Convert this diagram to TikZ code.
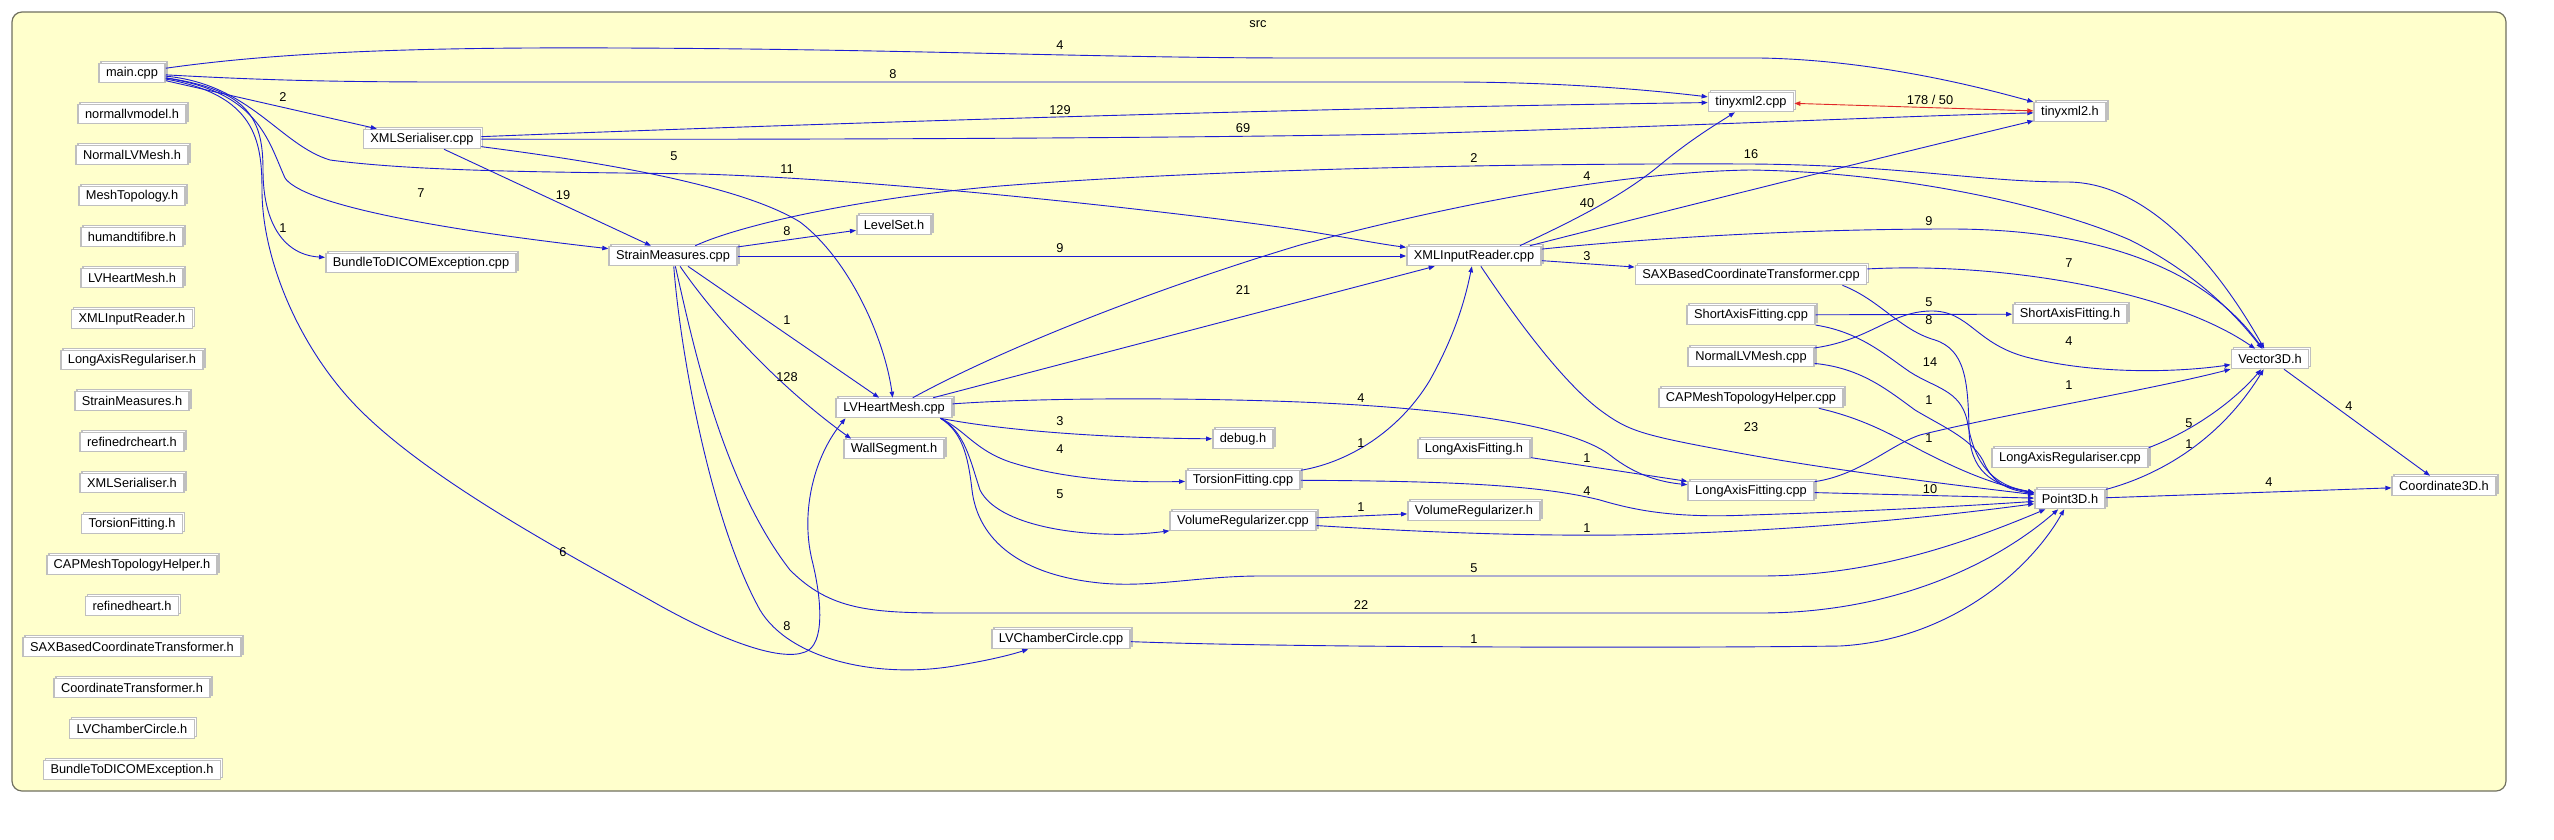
\documentclass[tikz,border=0pt]{standalone}
\usepackage{fontspec}
\setmainfont{Liberation Sans}
\usetikzlibrary{arrows.meta,shadows}
\definecolor{clusterbg}{HTML}{FFFFCC}
\definecolor{clusterbd}{HTML}{707060}
\definecolor{filebd}{HTML}{BFBFBF}
\definecolor{edgeblue}{HTML}{1C1CD2}
\definecolor{cycred}{HTML}{E02828}
\newcommand{\gvfont}{\fontsize{12.8}{14}\selectfont}
\tikzset{
  file/.style={draw=filebd,fill=white,line width=1.6pt,inner xsep=7pt,inner ysep=0pt,
               minimum height=19pt,font=\gvfont,
               copy shadow={shadow xshift=2pt,shadow yshift=2pt}},
  dep/.style={-{Triangle[length=6pt,width=4.5pt]},draw=edgeblue,line width=0.9pt},
  cyc/.style={{Triangle[length=6pt,width=4.5pt]}-{Triangle[length=6pt,width=4.5pt]},
              draw=cycred,line width=0.9pt},
  lbl/.style={font=\gvfont,text=black,inner sep=1pt},
}
\begin{document}
\begin{tikzpicture}[x=1pt,y=-1pt]
  \useasboundingbox (0,0) rectangle (2554,839);
  % Cluster frame
  \draw[draw=clusterbd,fill=clusterbg,rounded corners=10pt,line width=1.2pt]
    (12,12) rectangle (2506,791);
  \node[font=\gvfont] (srclbl) at (1258,24) {src};
  % Left column
  \node[file] (main) at (132,73) {main.cpp};
  \foreach \txt [count=\i] in {normallvmodel.h,NormalLVMesh.h,MeshTopology.h,humandtifibre.h,
    LVHeartMesh.h,XMLInputReader.h,LongAxisRegulariser.h,StrainMeasures.h,refinedrcheart.h,
    XMLSerialiser.h,TorsionFitting.h,CAPMeshTopologyHelper.h,refinedheart.h,
    SAXBasedCoordinateTransformer.h,CoordinateTransformer.h,LVChamberCircle.h,
    BundleToDICOMException.h}{
    \node[file] (lh\i) at (132,{73+41*\i}) {\txt};}
  % Files
  \node[file] (xmlsercpp) at (422,139) {XMLSerialiser.cpp};
  \node[file] (bundlecpp) at (421,263) {BundleToDICOMException.cpp};
  \node[file] (straincpp) at (673,256) {StrainMeasures.cpp};
  \node[file] (levelset) at (894,225) {LevelSet.h};
  \node[file] (lvheartcpp) at (894,408) {LVHeartMesh.cpp};
  \node[file] (wallseg) at (894,449) {WallSegment.h};
  \node[file] (lvchambercpp) at (1061,639) {LVChamberCircle.cpp};
  \node[file] (debugh) at (1243,439) {debug.h};
  \node[file] (torsioncpp) at (1243,480) {TorsionFitting.cpp};
  \node[file] (volregcpp) at (1243,521) {VolumeRegularizer.cpp};
  \node[file] (xmlreadcpp) at (1474,256) {XMLInputReader.cpp};
  \node[file] (longfith) at (1474,449) {LongAxisFitting.h};
  \node[file] (volregh) at (1474,511) {VolumeRegularizer.h};
  \node[file] (tinycpp) at (1751,102) {tinyxml2.cpp};
  \node[file] (saxcpp) at (1751,275) {SAXBasedCoordinateTransformer.cpp};
  \node[file] (shortfitcpp) at (1751,315) {ShortAxisFitting.cpp};
  \node[file] (normlvcpp) at (1751,357) {NormalLVMesh.cpp};
  \node[file] (capmeshcpp) at (1751,398) {CAPMeshTopologyHelper.cpp};
  \node[file] (longfitcpp) at (1751,491) {LongAxisFitting.cpp};
  \node[file] (tinyh) at (2070,112) {tinyxml2.h};
  \node[file] (shortfith) at (2070,314) {ShortAxisFitting.h};
  \node[file] (longregcpp) at (2070,458) {LongAxisRegulariser.cpp};
  \node[file] (pointh) at (2070,499) {Point3D.h};
  \node[file] (vectorh) at (2270,359) {Vector3D.h};
  \node[file] (coordh) at (2444,486) {Coordinate3D.h};
  % main.cpp
  \draw[dep] (main) .. controls (280,52) and (420,47) .. (620,48)
    .. controls (900,49) and (1100,58) .. (1300,58) -- (1760,58)
    .. controls (1880,60) and (1990,90) .. (tinyh) node[lbl] at (1060,45) {4};
  \draw[dep] (main) .. controls (260,80) and (330,82) .. (450,82) -- (1450,82)
    .. controls (1560,82) and (1650,90) .. (tinycpp) node[lbl] at (893,74) {8};
  \draw[dep] (main) -- (xmlsercpp) node[lbl] at (283,97) {2};
  \draw[dep] (main) .. controls (250,84) and (280,145) .. (330,160)
    .. controls (420,172) and (560,172) .. (700,174)
    .. controls (900,180) and (1200,215) .. (1300,230)
    .. controls (1350,238) and (1380,244) .. (xmlreadcpp) node[lbl] at (787,169) {11};
  \draw[dep] (main) .. controls (258,92) and (268,140) .. (285,178)
    .. controls (300,200) and (400,225) .. (straincpp) node[lbl] at (421,193) {7};
  \draw[dep] (main) .. controls (250,90) and (263,120) .. (263,170)
    .. controls (263,225) and (285,255) .. (bundlecpp) node[lbl] at (283,228) {1};
  \draw[dep] (main) .. controls (255,95) and (262,140) .. (262,190)
    .. controls (262,260) and (300,350) .. (360,410)
    .. controls (430,480) and (560,550) .. (650,600)
    .. controls (720,640) and (780,662) .. (805,652)
    .. controls (825,645) and (822,600) .. (812,560)
    .. controls (800,510) and (815,455) .. (lvheartcpp.-168) node[lbl] at (563,552) {6};
  % XMLSerialiser.cpp
  \draw[dep] (xmlsercpp) .. controls (800,124) and (1300,108) .. (tinycpp)
    node[lbl] at (1060,110) {129};
  \draw[dep] (xmlsercpp) .. controls (900,140) and (1250,137) .. (1400,134)
    .. controls (1700,126) and (1900,116) .. (tinyh) node[lbl] at (1243,128) {69};
  \draw[dep] (xmlsercpp) .. controls (600,162) and (740,185) .. (800,222)
    .. controls (850,260) and (885,340) .. (lvheartcpp) node[lbl] at (674,156) {5};
  \draw[dep] (xmlsercpp) -- (straincpp) node[lbl] at (563,195) {19};
  % StrainMeasures.cpp
  \draw[dep] (straincpp) -- (levelset) node[lbl] at (787,231) {8};
  \draw[dep] (straincpp) -- (xmlreadcpp) node[lbl] at (1060,248) {9};
  \draw[dep] (straincpp) .. controls (740,225) and (860,198) .. (1000,186)
    .. controls (1200,170) and (1500,163) .. (1750,164)
    .. controls (1900,165) and (1980,182) .. (2067,182)
    .. controls (2150,182) and (2220,270) .. (vectorh) node[lbl] at (1474,158) {2};
  \draw[dep] (straincpp) -- (lvheartcpp) node[lbl] at (787,320) {1};
  \draw[dep] (straincpp) .. controls (710,310) and (770,380) .. ([xshift=8pt]wallseg.north west)
    node[lbl] at (787,377) {128};
  \draw[dep] (straincpp) .. controls (680,350) and (710,520) .. (760,610)
    .. controls (790,660) and (880,680) .. (960,665)
    .. controls (990,660) and (1010,655) .. (lvchambercpp) node[lbl] at (787,626) {8};
  \draw[dep] (straincpp) .. controls (690,330) and (720,480) .. (790,570)
    .. controls (830,610) and (870,613) .. (950,613) -- (1760,613)
    .. controls (1900,613) and (2000,560) .. (pointh) node[lbl] at (1361,605) {22};
  % LVHeartMesh.cpp
  \draw[dep] (lvheartcpp) .. controls (1000,350) and (1150,290) .. (1300,245)
    .. controls (1450,205) and (1620,172) .. (1750,170)
    .. controls (1900,172) and (2050,205) .. (2130,240)
    .. controls (2200,275) and (2240,320) .. (vectorh) node[lbl] at (1587,176) {4};
  \draw[dep] (lvheartcpp) -- (xmlreadcpp) node[lbl] at (1243,290) {21};
  \draw[dep] ([xshift=-12pt]lvheartcpp.south east) .. controls (1000,430) and (1100,438) .. (debugh)
    node[lbl] at (1060,421) {3};
  \draw[dep] ([xshift=-12pt]lvheartcpp.south east) .. controls (965,430) and (975,450) .. (1010,462)
    .. controls (1060,478) and (1120,483) .. (torsioncpp) node[lbl] at (1060,449) {4};
  \draw[dep] ([xshift=-12pt]lvheartcpp.south east) .. controls (965,432) and (970,460) .. (980,490)
    .. controls (1000,530) and (1100,540) .. (volregcpp) node[lbl] at (1060,494) {5};
  \draw[dep] (lvheartcpp) .. controls (1050,397) and (1200,398) .. (1300,402)
    .. controls (1450,408) and (1570,425) .. (1610,455)
    .. controls (1635,475) and (1660,482) .. (longfitcpp) node[lbl] at (1361,398) {4};
  \draw[dep] ([xshift=-12pt]lvheartcpp.south east) .. controls (962,432) and (968,455) .. (972,490)
    .. controls (978,540) and (1020,575) .. (1100,583)
    .. controls (1150,588) and (1200,576) .. (1260,576) -- (1760,576)
    .. controls (1870,576) and (1960,545) .. (pointh) node[lbl] at (1474,568) {5};
  % XMLInputReader.cpp
  \draw[dep] ([xshift=-22pt]xmlreadcpp.north east) .. controls (1570,222) and (1620,198) .. (1660,165)
    .. controls (1690,140) and (1715,125) .. (tinycpp) node[lbl] at (1587,203) {40};
  \draw[dep] ([xshift=-12pt]xmlreadcpp.north east) .. controls (1650,215) and (1850,165) .. (tinyh)
    node[lbl] at (1751,154) {16};
  \draw[dep] (xmlreadcpp) .. controls (1650,238) and (1800,229) .. (1950,229)
    .. controls (2110,229) and (2210,275) .. (vectorh) node[lbl] at (1929,221) {9};
  \draw[dep] (xmlreadcpp) -- (saxcpp) node[lbl] at (1587,256) {3};
  \draw[dep] (xmlreadcpp) .. controls (1510,310) and (1560,380) .. (1600,410)
    .. controls (1630,432) and (1640,435) .. (1750,455)
    .. controls (1850,473) and (1980,488) .. (pointh) node[lbl] at (1751,427) {23};
  % TorsionFitting.cpp and VolumeRegularizer.cpp
  \draw[dep] (torsioncpp) .. controls (1350,462) and (1400,430) .. (1430,380)
    .. controls (1455,335) and (1465,300) .. (xmlreadcpp) node[lbl] at (1361,443) {1};
  \draw[dep] (torsioncpp) .. controls (1450,481) and (1540,485) .. (1600,500)
    .. controls (1640,512) and (1680,518) .. (1750,515)
    .. controls (1880,511) and (1980,505) .. (pointh) node[lbl] at (1587,491) {4};
  \draw[dep] (volregcpp) -- (volregh) node[lbl] at (1361,507) {1};
  \draw[dep] (volregcpp) .. controls (1420,532) and (1520,536) .. (1620,535)
    .. controls (1800,532) and (1950,515) .. (pointh) node[lbl] at (1587,528) {1};
  \draw[dep] (longfith) -- (longfitcpp) node[lbl] at (1587,458) {1};
  \draw[dep] (lvchambercpp) .. controls (1300,648) and (1700,648) .. (1840,646)
    .. controls (1950,640) and (2030,570) .. (pointh) node[lbl] at (1474,639) {1};
  % Fourth column
  \draw[dep] (saxcpp) .. controls (2000,262) and (2170,290) .. (vectorh) node[lbl] at (2069,263) {7};
  \draw[dep] ([xshift=-25pt]saxcpp.south east) .. controls (1880,300) and (1900,330) .. (1935,340)
    .. controls (1965,350) and (1968,380) .. (1969,430)
    .. controls (1970,470) and (1990,485) .. (pointh) node[lbl] at (1929,320) {8};
  \draw[dep] (shortfitcpp) -- (shortfith) node[lbl] at (1929,302) {5};
  \draw[dep] (shortfitcpp) .. controls (1860,332) and (1885,355) .. (1910,372)
    .. controls (1935,388) and (1960,390) .. (1967,420)
    .. controls (1973,455) and (1985,484) .. (pointh) node[lbl] at (1930,362) {14};
  \draw[dep] (normlvcpp) .. controls (1870,340) and (1890,312) .. (1930,311)
    .. controls (1970,310) and (1975,345) .. (2030,358)
    .. controls (2100,375) and (2180,372) .. (vectorh) node[lbl] at (2069,341) {4};
  \draw[dep] (normlvcpp) .. controls (1860,368) and (1885,388) .. (1915,410)
    .. controls (1945,428) and (1975,440) .. (1985,465)
    .. controls (1995,485) and (2010,490) .. (pointh) node[lbl] at (1929,400) {1};
  \draw[dep] ([xshift=-25pt]capmeshcpp.south east) .. controls (1870,420) and (1900,440) .. (1930,455)
    .. controls (1970,475) and (2000,486) .. (pointh) node[lbl] at (1929,438) {1};
  \draw[dep] (longfitcpp) -- (pointh) node[lbl] at (1930,489) {10};
  \draw[dep] (longfitcpp) .. controls (1860,475) and (1890,445) .. (1920,435)
    .. controls (2000,415) and (2150,390) .. (vectorh) node[lbl] at (2069,385) {1};
  % Right end
  \draw[dep] (longregcpp.north east) .. controls (2195,430) and (2235,400) .. (vectorh)
    node[lbl] at (2189,423) {5};
  \draw[dep] (pointh) .. controls (2160,475) and (2220,440) .. (vectorh) node[lbl] at (2189,444) {1};
  \draw[dep] (pointh) -- (coordh) node[lbl] at (2269,482) {4};
  \draw[dep] (vectorh) -- (coordh) node[lbl] at (2349,406) {4};
  \draw[cyc] (tinycpp) -- (tinyh) node[lbl] at (1930,100) {178 / 50};
\end{tikzpicture}
\end{document}
